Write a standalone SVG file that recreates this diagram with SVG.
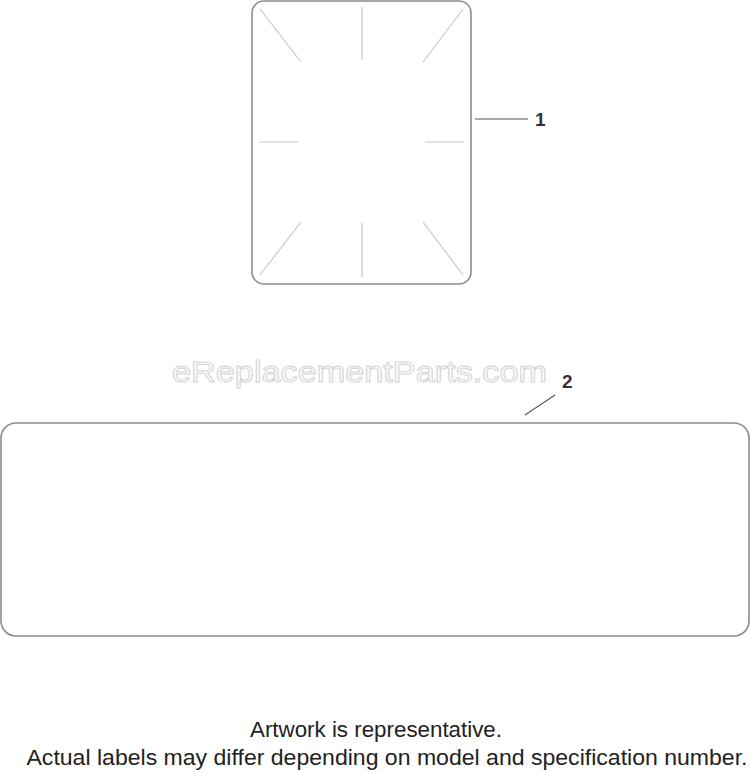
<svg xmlns="http://www.w3.org/2000/svg" width="750" height="772" viewBox="0 0 750 772">
<style>
.frame{fill:#fff;stroke:#8c8c8c;stroke-width:1.6}
.guide{stroke:#c8c8c8;stroke-width:1.2;fill:none}
.lead{stroke:#555;stroke-width:1.2;fill:none}
.num{font-family:"Liberation Sans",Arial,sans-serif;font-weight:bold;font-size:19px;fill:#333}
.note{font-family:"Liberation Sans",Arial,sans-serif;font-size:21.5px;fill:#222;text-anchor:middle}
.wm{font-family:"Liberation Sans",Arial,sans-serif;font-size:29px;fill:#fff;stroke:#d4d4d4;stroke-width:1}
</style>
<rect width="750" height="772" fill="#fff"/>
<text class="wm" x="172" y="382" textLength="375" lengthAdjust="spacingAndGlyphs">eReplacementParts.com</text>
<g id="label1">
<rect class="frame" x="252" y="1" width="219" height="283" rx="12"/>
<g class="guide">
<line x1="260" y1="9" x2="301" y2="62"/>
<line x1="362" y1="7" x2="362" y2="60"/>
<line x1="463" y1="9" x2="423" y2="62"/>
<line x1="259" y1="142" x2="298" y2="142"/>
<line x1="425" y1="142" x2="464" y2="142"/>
<line x1="301" y1="222" x2="260" y2="275"/>
<line x1="362" y1="223" x2="362" y2="277"/>
<line x1="423" y1="222" x2="463" y2="275"/>
</g>
</g>
<g id="label2">
<rect class="frame" x="1" y="423" width="748" height="213" rx="15"/>
</g>
<g id="connectors">
<line class="lead" x1="475" y1="119" x2="528" y2="119"/>
<line class="lead" x1="525" y1="415" x2="555" y2="395"/>
</g>
<g id="callout1"><text class="num" x="535" y="126">1</text></g>
<g id="callout2"><text class="num" x="562" y="388">2</text></g>
<g id="notes">
<text class="note" x="376" y="737" textLength="252" lengthAdjust="spacingAndGlyphs">Artwork is representative.</text>
<text class="note" x="387" y="765" textLength="721" lengthAdjust="spacingAndGlyphs">Actual labels may differ depending on model and specification number.</text>
</g>
</svg>
